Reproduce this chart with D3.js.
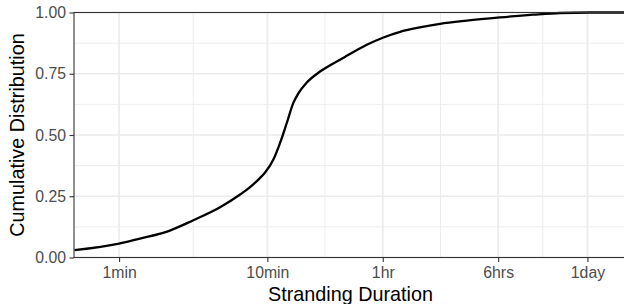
<!DOCTYPE html>
<html>
<head>
<meta charset="utf-8">
<script src="https://cdn.jsdelivr.net/npm/d3@7"></script>
<style>
  body { margin: 0; background: #fff; }
  svg { display: block; font-family: "Liberation Sans", Arial, Helvetica, sans-serif; }
</style>
</head>
<body>
<div id="chart"></div>
<script>
// duration in seconds and the cumulative share of strandings
var durationSec = [30, 60, 83, 132, 190, 288, 393, 450, 536, 579, 659, 731, 811, 898, 971, 1106, 1360, 1763, 2058, 2808, 3637, 4709, 6258, 8764, 13266, 22244, 37140, 56460, 90000, 154800];
var cumulative  = [0.030, 0.057, 0.077, 0.110, 0.152, 0.205, 0.257, 0.283, 0.325, 0.347, 0.400, 0.468, 0.549, 0.631, 0.670, 0.714, 0.759, 0.800, 0.823, 0.868, 0.898, 0.921, 0.938, 0.954, 0.967, 0.980, 0.991, 0.998, 1.0, 1.0];

var xTicks = [60, 600, 3600, 21600, 86400];
var xTickLabels = ["1min", "10min", "1hr", "6hrs", "1day"];
var yTicks = [0, 0.25, 0.5, 0.75, 1];

// set the dimensions and margins of the graph
var W = 624, H = 304;
var margin = {top: 12.5, right: -1, bottom: 46.5, left: 74},
    width = W - margin.left - margin.right,
    height = H - margin.top - margin.bottom;

var svg = d3.select("#chart")
  .append("svg")
    .attr("width", W)
    .attr("height", H)
  .append("g")
    .attr("transform", "translate(" + margin.left + "," + margin.top + ")");

var x = d3.scaleLog()
  .domain([29.8, 154800])
  .range([0, width]);

var y = d3.scaleLinear()
  .domain([0, 1])
  .range([height, 0]);

// minor breaks sit halfway between majors (in log space)
var xMinor = [];
for (var i = 0; i < xTicks.length - 1; i++) {
  xMinor.push(Math.sqrt(xTicks[i] * xTicks[i + 1]));
}
var yMinor = [];
for (var j = 0; j < yTicks.length - 1; j++) {
  yMinor.push((yTicks[j] + yTicks[j + 1]) / 2);
}

// grid
svg.selectAll(".ygrid-minor").data(yMinor).enter().append("line")
  .attr("x1", 0).attr("x2", width)
  .attr("y1", function(d) { return y(d); }).attr("y2", function(d) { return y(d); })
  .attr("stroke", "#ebebeb").attr("stroke-width", 0.9);
svg.selectAll(".xgrid-minor").data(xMinor).enter().append("line")
  .attr("y1", 0).attr("y2", height)
  .attr("x1", function(d) { return x(d); }).attr("x2", function(d) { return x(d); })
  .attr("stroke", "#ebebeb").attr("stroke-width", 0.9);
svg.selectAll(".ygrid").data(yTicks).enter().append("line")
  .attr("x1", 0).attr("x2", width)
  .attr("y1", function(d) { return y(d); }).attr("y2", function(d) { return y(d); })
  .attr("stroke", "#ebebeb").attr("stroke-width", 1.7);
svg.selectAll(".xgrid").data(xTicks).enter().append("line")
  .attr("y1", 0).attr("y2", height)
  .attr("x1", function(d) { return x(d); }).attr("x2", function(d) { return x(d); })
  .attr("stroke", "#ebebeb").attr("stroke-width", 1.7);

// the curve
var pts = durationSec.map(function(d, k) { return [d, cumulative[k]]; });
svg.append("path")
  .datum(pts)
  .attr("fill", "none")
  .attr("stroke", "#000")
  .attr("stroke-width", 2.3)
  .attr("stroke-linejoin", "round")
  .attr("d", d3.line()
    .x(function(d) { return x(d[0]); })
    .y(function(d) { return y(d[1]); })
    .curve(d3.curveMonotoneX));

// panel border
svg.append("rect")
  .attr("x", 0).attr("y", 0)
  .attr("width", width).attr("height", height)
  .attr("fill", "none")
  .attr("stroke", "#333333")
  .attr("stroke-width", 1.1);

// X axis
var xAxis = svg.append("g")
  .attr("transform", "translate(0," + height + ")")
  .call(d3.axisBottom(x)
    .tickValues(xTicks)
    .tickFormat(function(d, k) { return xTickLabels[k]; })
    .tickSize(4.5)
    .tickPadding(5));
xAxis.select(".domain").remove();
xAxis.selectAll(".tick line").attr("stroke", "#333333").attr("stroke-width", 1.1);
xAxis.selectAll(".tick text")
  .attr("fill", "#4d4d4d")
  .style("font-size", "15.8px")
  .style("font-family", "'Liberation Sans', Arial, sans-serif");

// Y axis
var yAxis = svg.append("g")
  .call(d3.axisLeft(y)
    .tickValues(yTicks)
    .tickFormat(d3.format(".2f"))
    .tickSize(4.5)
    .tickPadding(3.5));
yAxis.select(".domain").remove();
yAxis.selectAll(".tick line").attr("stroke", "#333333").attr("stroke-width", 1.1);
yAxis.selectAll(".tick text")
  .attr("fill", "#4d4d4d")
  .style("font-size", "15.8px")
  .style("font-family", "'Liberation Sans', Arial, sans-serif");

// axis titles
svg.append("text")
  .attr("x", width / 2 + 1)
  .attr("y", H - margin.top - 3.5)
  .style("text-anchor", "middle")
  .style("font-size", "19.8px")
  .attr("fill", "#000")
  .text("Stranding Duration");

svg.append("text")
  .attr("transform", "rotate(-90)")
  .attr("x", -height / 2)
  .attr("y", 24 - margin.left)
  .style("text-anchor", "middle")
  .style("font-size", "19.8px")
  .attr("fill", "#000")
  .text("Cumulative Distribution");
</script>
</body>
</html>
